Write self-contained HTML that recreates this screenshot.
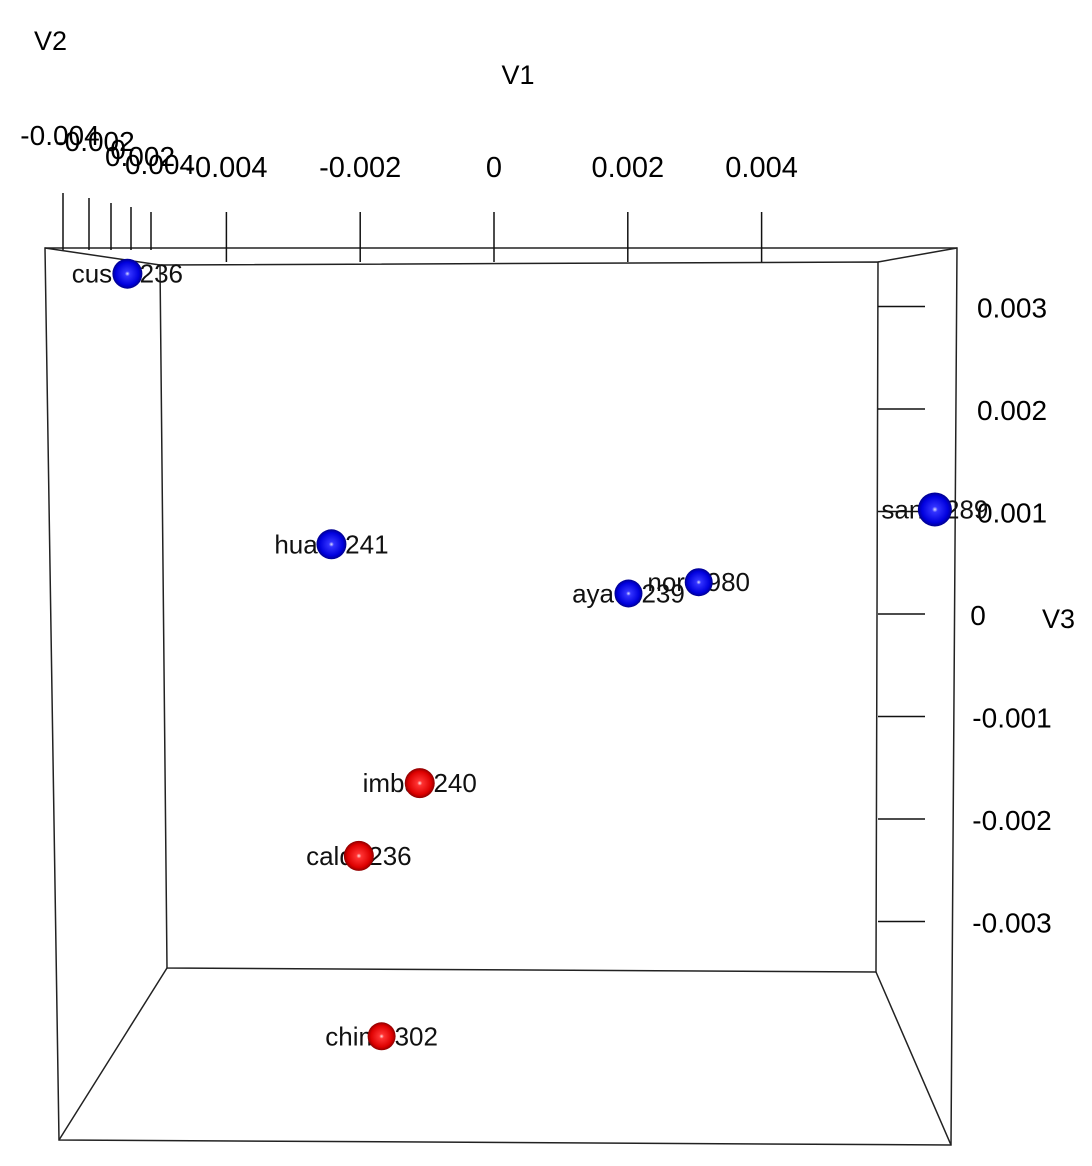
<!DOCTYPE html>
<html><head><meta charset="utf-8"><style>
body{margin:0;background:#fff}
svg{display:block;font-family:"Liberation Sans",sans-serif}
</style></head><body>
<svg id="chart" width="1092" height="1166" viewBox="0 0 1092 1166" xmlns="http://www.w3.org/2000/svg">
<defs>
<radialGradient id="gb" cx="0.5" cy="0.5" r="0.55"><stop offset="0" stop-color="#ddf"/><stop offset="0.15" stop-color="#33f"/><stop offset="0.7" stop-color="#0000dd"/><stop offset="1" stop-color="#00006a"/></radialGradient>
<radialGradient id="gr" cx="0.5" cy="0.5" r="0.55"><stop offset="0" stop-color="#fdd"/><stop offset="0.15" stop-color="#f33"/><stop offset="0.7" stop-color="#dd0000"/><stop offset="1" stop-color="#6a0000"/></radialGradient>
</defs>
<g stroke="#222" stroke-width="1.5" fill="none">
<path d="M45,248 L957,248 L951,1145 L59,1140 Z"/>
<path d="M160,265 L878,262 L876,972 L167,968 Z"/>
<path d="M45,248 L160,265 M957,248 L878,262 M951,1145 L876,972 M59,1140 L167,968"/>
</g>
<text x="34" y="50" font-size="27">V2</text>
<text x="518" y="84" font-size="27" text-anchor="middle">V1</text>
<text x="1042" y="628" font-size="27">V3</text>
<g id="axes"></g>
<g id="pts"></g>
</svg>
<script>
const v1Ticks=[-0.004,-0.002,0,0.002,0.004];
const v1TickLabels=["-0.004","-0.002","0","0.002","0.004"];
const v3Ticks=[0.003,0.002,0.001,0,-0.001,-0.002,-0.003];
const v3TickLabels=["0.003","0.002","0.001","0","-0.001","-0.002","-0.003"];
const v2TickLabels=["-0.004","-0.002","0","0.002","0.004"];
const names=["cusco236","huanc241","ayacu239","norte980","santa289","imbab240","caldo236","chimb302"];
const v1Vals=[-0.00548,-0.00243,0.00201,0.00306,0.00659,-0.00111,-0.00202,-0.00168];
const v3Vals=[0.00332,0.00068,0.0002,0.00031,0.00102,-0.00165,-0.00236,-0.00412];
const groups=["b","b","b","b","b","r","r","r"];
const sizes=[15,15,14,14,17,15,15,14];
const NS="http://www.w3.org/2000/svg";
const X=v=>494+v*66900, Y=v=>614-v*102500;
function mk(t,a,p){const e=document.createElementNS(NS,t);for(const k in a)e.setAttribute(k,a[k]);p.appendChild(e);return e;}
const ax=document.getElementById('axes'), pg=document.getElementById('pts');
v1Ticks.forEach((v,i)=>{
 const l=mk('line',{x1:X(v),x2:X(v),y1:262,y2:212,stroke:'#111','stroke-width':1.5},ax);
 
 
 const t=mk('text',{x:X(v),y:177,'font-size':29,'text-anchor':'middle'},ax);t.textContent=v1TickLabels[i];
 
 
});
const v2x=[63,89,111,131,151], v2y=[193,198,203,207,212], v2lx=[60,95,118,140,160], v2ly=[145,151,159,166,174];
v2TickLabels.forEach((s,i)=>{
 const l=mk('line',{x1:v2x[i],x2:v2x[i],y1:250,y2:v2y[i],stroke:'#111','stroke-width':1.5},ax);
 
 
 const t=mk('text',{x:v2lx[i],y:v2ly[i],'font-size':28,'text-anchor':'middle'},ax);t.textContent=s;
 
 
});
v3Ticks.forEach((v,i)=>{
 const l=mk('line',{x1:878,x2:925,y1:Y(v),y2:Y(v),stroke:'#111','stroke-width':1.5},ax);
 
 
 const t=mk('text',{x:v3TickLabels[i]==="0"?978:1012,y:Y(v)+11,'font-size':28,'text-anchor':'middle'},ax);t.textContent=v3TickLabels[i];
 
 
});
names.forEach((n,i)=>{
 const x=X(v1Vals[i]), y=Y(v3Vals[i]);
 const t=mk('text',{x:x,y:y+9,'font-size':26,'text-anchor':'middle',fill:'#111'},pg);t.textContent=n;
 
 
 const c=mk('circle',{cx:x,cy:y,r:sizes[i],fill:groups[i]==='b'?'url(#gb)':'url(#gr)'},pg);
 
 
});
</script>
</body></html>
